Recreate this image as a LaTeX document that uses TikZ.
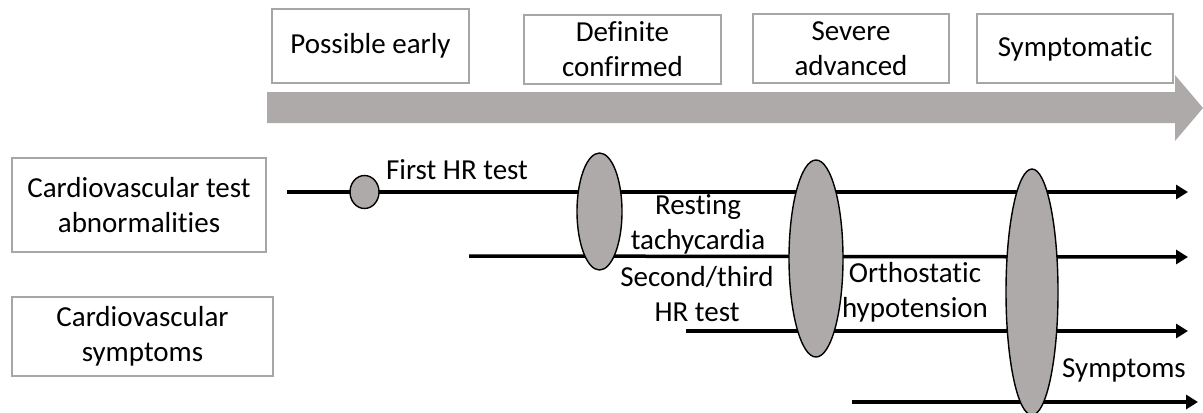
\documentclass[tikz,border=0pt]{standalone}
\usepackage{fontspec}
\setmainfont[Ligatures=NoCommon]{Carlito}
\usetikzlibrary{shapes.geometric,arrows.meta}
\definecolor{stagegray}{HTML}{AEAAAA}
\definecolor{boxline}{HTML}{A6A6A6}
\begin{document}
\begin{tikzpicture}[x=0.5pt,y=-0.5pt,
  every node/.style={font=\fontsize{14.5}{17.5}\selectfont, inner sep=0pt, align=center},
  labelbox/.style={draw=boxline, line width=0.8pt, fill=white},
  blob/.style={ellipse, draw=black, line width=0.7pt, fill=stagegray},
  track/.style={line width=1.75pt, -{Triangle[length=6pt,width=7pt]}}]
\useasboundingbox (0,0) rectangle (1203,412);
\clip (0,0) rectangle (1203,412);

% progression arrow
\fill[stagegray] (267,92) -- (1175,92) -- (1175,75) -- (1203,108) -- (1175,141) -- (1175,123) -- (267,123) -- cycle;

% stage boxes
\node[labelbox, minimum width=98.5pt, minimum height=37pt] (early) at (370.5,46) {Possible early};
\node[labelbox, minimum width=98.5pt, minimum height=34.5pt] (definite) at (622.5,49.5) {Definite\\confirmed};
\node[labelbox, minimum width=98pt, minimum height=34.5pt] (severe) at (851,48.5) {Severe\\advanced};
\node[labelbox, minimum width=98pt, minimum height=34.5pt] (sympt) at (1075,48.5) {Symptomatic};

% row headings
\node[labelbox, minimum width=127pt, minimum height=47pt] (cvtest) at (139,205) {Cardiovascular test\\abnormalities};
\node[labelbox, minimum width=130.5pt, minimum height=39.5pt] (cvsym) at (142.5,336.5) {Cardiovascular\\symptoms};

% track end points
\coordinate (s1) at (287,192);  \coordinate (t1) at (1188,192);
\coordinate (s2) at (469,256);  \coordinate (t2) at (1188,257);
\coordinate (s3) at (686,331);  \coordinate (t3) at (1188,331);
\coordinate (s4) at (852,402);  \coordinate (t4) at (1198,402);

\draw[track] (s1) -- (t1);
\draw[track] (s2) -- (t2);
\draw[track] (s3) -- (t3);
\draw[track] (s4) -- (t4);

% stage markers
\node[blob, minimum width=14.5pt, minimum height=16.5pt] (m0) at (364.5,192) {};
\node[blob, minimum width=22.5pt, minimum height=58.5pt] (m1) at (599.5,211.5) {};
\node[blob, minimum width=27pt, minimum height=98.5pt] (m2) at (816,258.5) {};
\node[blob, minimum width=26pt, minimum height=123pt] (m3) at (1032,292) {};

% labels
\node (l1) at (457,170) {First HR test};
\node (l2) at (698,224) {Resting\\tachycardia};
\node (l3) at (697,294) {Second/third\\HR test};
\node (l4) at (915,292) {Orthostatic\\hypotension};
\node (l5) at (1124,370) {Symptoms};
\end{tikzpicture}
\end{document}
